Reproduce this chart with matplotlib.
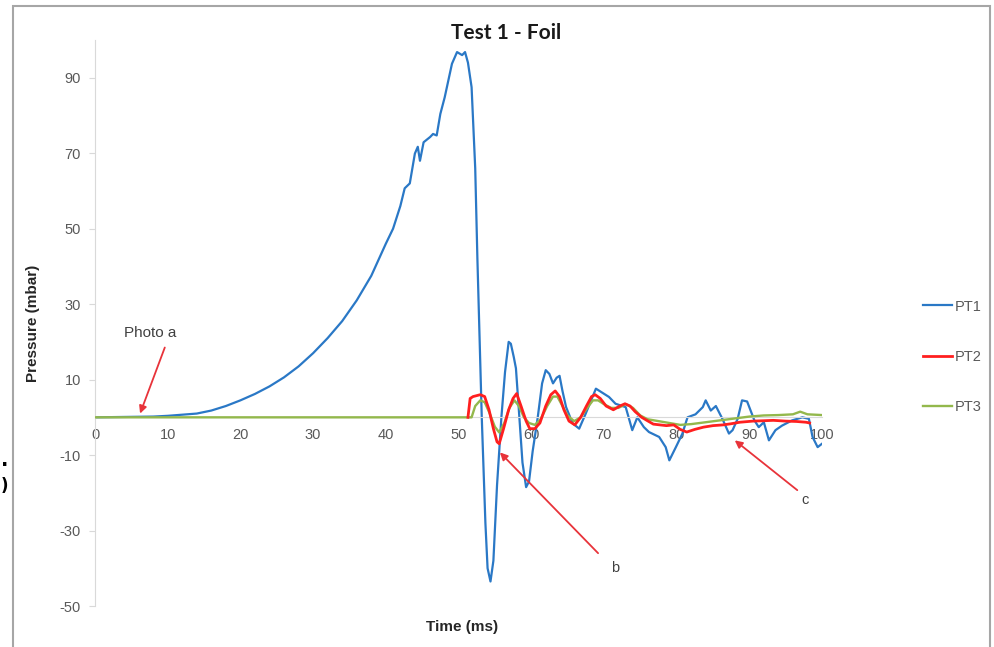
import numpy as np
import matplotlib.pyplot as plt
from matplotlib.patches import Rectangle

plt.rcParams["axes.unicode_minus"] = False

# PT1 - pressure transducer 1 (mbar)
t_pt1 = [0, 4, 8, 10, 12, 14, 16, 18, 20, 22, 24, 26, 28, 30, 32, 34, 36, 38,
         40, 41, 42, 42.6, 43.3, 44, 44.4, 44.7, 45.2, 46.1, 46.5, 47, 47.5,
         48.1, 49.1, 49.8, 50.5, 50.9, 51.3, 51.8, 52.3, 52.6, 52.8, 53.2,
         53.7, 54.0, 54.4, 54.8, 55.3, 55.9, 56.4, 56.9, 57.2, 57.6, 57.9,
         58.3, 58.8, 59.3, 59.7, 60.2, 60.9, 61.5, 62.0, 62.5, 63.0, 63.5,
         63.9, 64.3, 64.8, 65.7, 66.6, 67.5, 68.9, 69.8, 70.7, 71.6, 73.0,
         73.9, 74.6, 75.5, 76.2, 77.6, 78.5, 79.0, 79.9, 80.8, 81.5, 82.6,
         83.6, 84.0, 84.7, 85.4, 86.3, 87.2, 87.7, 88.4, 89.0, 89.7, 90.7,
         91.3, 92.0, 92.7, 93.6, 94.5, 95.9, 97.3, 98.2, 98.7, 99.4, 100]
p_pt1 = [0, 0.1, 0.2, 0.4, 0.7, 1.0, 1.8, 3.0, 4.5, 6.2, 8.2, 10.6, 13.5, 17,
         21, 25.5, 31, 37.5, 46, 50, 56, 60.7, 62, 69.9, 71.7, 68, 72.9, 74.3,
         75.1, 74.7, 80.4, 84.8, 93.7, 96.8, 96, 96.8, 94, 87.5, 66, 42, 28, 0,
         -28, -40, -43.5, -38, -18, 0, 12, 20, 19.5, 16, 13, 2, -12, -18.5,
         -17, -9, 0, 9, 12.5, 11.5, 9, 10.5, 11, 7, 2.7, -1.6, -3, 1, 7.6, 6.5,
         5.4, 3.6, 2.7, -3.4, 0, -2.6, -3.9, -5.2, -7.9, -11.4, -7.9, -4.3, 0,
         0.8, 2.7, 4.5, 1.8, 3, -0.4, -4.3, -3.4, -0.4, 4.5, 4.2, -0.8, -2.6,
         -1.3, -6.1, -3.4, -2.2, -0.8, 0, -0.4, -5.2, -7.9, -7]

# PT2 (trace only visible from ~51 ms on)
t_pt2 = [51.3, 51.6, 52.0, 53.0, 53.6, 54.2, 54.8, 55.3, 55.6, 56.2, 56.9,
         57.5, 58.0, 58.6, 59.3, 59.8, 60.5, 61.2, 62.0, 62.7, 63.3, 63.9,
         64.5, 65.2, 66.0, 66.8, 67.6, 68.3, 68.8, 69.5, 70.3, 71.3, 72.2,
         72.9, 73.6, 74.3, 75.2, 75.9, 76.8, 77.7, 78.6, 79.6, 80.5, 81.4,
         82.5, 83.7, 85.0, 86.4, 87.5, 88.7, 90.5, 92.0, 93.3, 95.0, 96.5,
         97.8, 98.3]
p_pt2 = [0, 5, 5.5, 6, 5.5, 2, -3, -6.5, -7, -3, 2, 5, 6.3, 3, -1, -3, -3,
         -1.5, 3, 6, 7, 5.5, 2, -1, -2, 0, 3, 5.5, 6, 5, 3, 2, 3, 3.6, 3, 1.5,
         0, -0.8, -1.8, -2, -2.2, -2, -3.2, -3.9, -3.2, -2.6, -2.2, -2, -1.7,
         -1.3, -1, -0.9, -0.8, -1, -1.1, -1.3, -1.5]

# PT3
t_pt3 = [0, 51.8, 52.3, 53.0, 53.6, 54.3, 55.0, 55.6, 56.3, 57.0, 57.7, 58.3,
         59.0, 59.7, 60.5, 61.3, 62.2, 63.0, 63.6, 64.3, 65.0, 65.9, 66.8,
         67.7, 68.5, 69.2, 70.0, 71, 72, 73, 74, 75, 76, 77.5, 79, 80.5, 82,
         84, 86, 88, 90, 92, 94, 96, 97, 98, 100]
p_pt3 = [0, 0, 3, 4.5, 4, 1, -2.5, -4, -1.5, 2.5, 4.5, 3, 0, -1.5, -2, -0.5,
         3, 5.5, 5.5, 3, 0.5, -1, 0, 2.5, 4.5, 4.5, 3.5, 2.5, 2.5, 3.5, 2.5,
         0.5, -0.5, -1, -1.5, -2, -1.8, -1.3, -0.8, -0.3, 0.2, 0.5, 0.6, 0.8,
         1.5, 0.8, 0.6]

y_ticks = [-50, -30, -10, 10, 30, 50, 70, 90]
x_ticks = [0, 10, 20, 30, 40, 50, 60, 70, 80, 90, 100]

grey = "#595959"
arrow_red = "#e8333a"

fig = plt.figure(figsize=(9.94, 6.47), dpi=100)
W, H = 994, 647

# chart-area frame of the excel screenshot
fig.patches.append(Rectangle((13 / W, -0.05), 977 / W, 1.05 - 6 / H,
                             transform=fig.transFigure, fill=False,
                             edgecolor="#a6a6a6", lw=1.5))
# fragments of text left of the frame
fig.text(1 / W, 1 - 460 / H, ".", fontsize=14, fontweight="bold",
         ha="left", va="center")
fig.text(1 / W, 1 - 486 / H, ")", fontsize=12, fontweight="bold",
         ha="left", va="center")

ax = fig.add_axes([95 / W, 1 - 606 / H, 727 / W, 566 / H])
ax.set_axisbelow(True)

ax.plot(t_pt1, p_pt1, color="#2a78c6", lw=1.6, label="PT1", zorder=2)
ax.plot(t_pt2, p_pt2, color="#ff1f1f", lw=2.0, label="PT2", zorder=4)
ax.plot(t_pt3, p_pt3, color="#93b84c", lw=1.7, label="PT3", zorder=3)

ax.set_xlim(0, 100)
ax.set_ylim(-50, 100)
ax.set_xticks(x_ticks)
ax.set_yticks(y_ticks)

for s in ["top", "right"]:
    ax.spines[s].set_visible(False)
ax.spines["left"].set_color("#d9d9d9")
ax.spines["bottom"].set_position(("data", 0))
ax.spines["bottom"].set_color("#d9d9d9")
ax.tick_params(axis="y", colors="#d9d9d9", labelcolor=grey, length=4,
               labelsize=10.5, pad=6)
ax.tick_params(axis="x", colors="#d9d9d9", labelcolor=grey, length=0,
               labelsize=10.5, pad=8)
for lab in ax.get_xticklabels() + ax.get_yticklabels():
    lab.set_fontfamily("Liberation Sans")

ax.set_xlabel("Time (ms)", fontsize=11, fontweight="bold", color="#262626",
              family="Liberation Sans")
ax.xaxis.set_label_coords((462 - 95) / 727, (606 - 620) / 566)
ax.set_ylabel("Pressure (mbar)", fontsize=11, fontweight="bold", color="#262626",
              family="Liberation Sans")
ax.yaxis.set_label_coords((40 - 95) / 727, 0.5)

fig.text(506 / W, 1 - 33 / H, "Test 1 - Foil", fontsize=15, fontweight="bold",
         family="Lato", ha="center", va="center", color="#1a1a1a")

# annotations
ax.text(7.6, 22.3, "Photo a", fontsize=11, color="#404040", ha="center",
        va="center", family="Liberation Sans")
ax.text(71.6, -40, "b", fontsize=10.5, color="#404040", ha="center",
        va="center", family="Liberation Sans")
ax.text(97.7, -22, "c", fontsize=10.5, color="#404040", ha="center",
        va="center", family="Liberation Sans")
arrow = dict(arrowstyle="-|>", color=arrow_red, lw=1.3, mutation_scale=11,
             shrinkA=0, shrinkB=0)
ax.annotate("", xy=(6.2, 1), xytext=(9.6, 18.5), arrowprops=arrow)
ax.annotate("", xy=(55.7, -9.3), xytext=(69.2, -36), arrowprops=arrow)
ax.annotate("", xy=(88.0, -6.1), xytext=(96.6, -19.3), arrowprops=arrow)

leg = ax.legend(loc="center left", bbox_to_anchor=(910 / W, 1 - 357 / H),
                bbox_transform=fig.transFigure, frameon=False,
                prop={"family": "Liberation Sans", "size": 10.5},
                labelspacing=2.5, handlelength=2.0, handletextpad=0.15)
for txt in leg.get_texts():
    txt.set_color(grey)

fig.savefig("out.png", dpi=100, facecolor="white")
